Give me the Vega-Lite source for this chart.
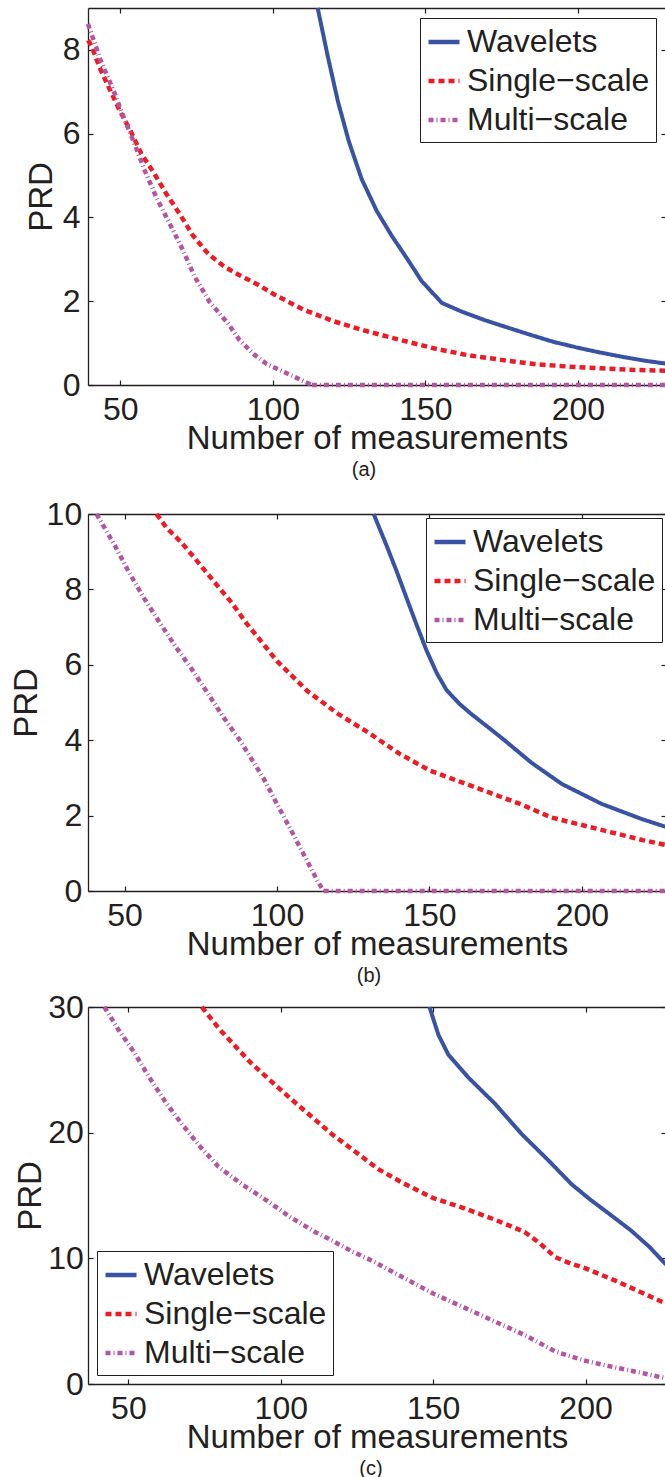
{
  "$schema": "https://vega.github.io/schema/vega-lite/v6.json",
  "background": "white",
  "padding": {"left": 10, "top": 6, "right": 0, "bottom": 0},
  "autosize": {"type": "pad"},
  "data": {
    "values": [
      {"panel": "a", "series": "Wavelets", "n": 114.7, "prd": 9.0},
      {"panel": "a", "series": "Wavelets", "n": 118.0, "prd": 7.85},
      {"panel": "a", "series": "Wavelets", "n": 121.3, "prd": 6.78},
      {"panel": "a", "series": "Wavelets", "n": 124.9, "prd": 5.82},
      {"panel": "a", "series": "Wavelets", "n": 129.1, "prd": 4.92},
      {"panel": "a", "series": "Wavelets", "n": 134.1, "prd": 4.15},
      {"panel": "a", "series": "Wavelets", "n": 139.0, "prd": 3.56},
      {"panel": "a", "series": "Wavelets", "n": 143.9, "prd": 3.03},
      {"panel": "a", "series": "Wavelets", "n": 148.8, "prd": 2.48},
      {"panel": "a", "series": "Wavelets", "n": 155.4, "prd": 1.96},
      {"panel": "a", "series": "Wavelets", "n": 162.0, "prd": 1.75},
      {"panel": "a", "series": "Wavelets", "n": 169.4, "prd": 1.55},
      {"panel": "a", "series": "Wavelets", "n": 177.0, "prd": 1.37},
      {"panel": "a", "series": "Wavelets", "n": 184.8, "prd": 1.19},
      {"panel": "a", "series": "Wavelets", "n": 192.0, "prd": 1.03},
      {"panel": "a", "series": "Wavelets", "n": 200.0, "prd": 0.89},
      {"panel": "a", "series": "Wavelets", "n": 207.0, "prd": 0.78},
      {"panel": "a", "series": "Wavelets", "n": 214.8, "prd": 0.67},
      {"panel": "a", "series": "Wavelets", "n": 222.0, "prd": 0.58},
      {"panel": "a", "series": "Wavelets", "n": 228.9, "prd": 0.51},

      {"panel": "a", "series": "Single−scale", "n": 39.4, "prd": 8.23},
      {"panel": "a", "series": "Single−scale", "n": 40.5, "prd": 8.1},
      {"panel": "a", "series": "Single−scale", "n": 43.2, "prd": 7.58},
      {"panel": "a", "series": "Single−scale", "n": 46.5, "prd": 7.06},
      {"panel": "a", "series": "Single−scale", "n": 49.8, "prd": 6.55},
      {"panel": "a", "series": "Single−scale", "n": 53.6, "prd": 6.03},
      {"panel": "a", "series": "Single−scale", "n": 56.9, "prd": 5.52},
      {"panel": "a", "series": "Single−scale", "n": 61.2, "prd": 5.04},
      {"panel": "a", "series": "Single−scale", "n": 65.1, "prd": 4.56},
      {"panel": "a", "series": "Single−scale", "n": 69.4, "prd": 4.09},
      {"panel": "a", "series": "Single−scale", "n": 73.8, "prd": 3.57},
      {"panel": "a", "series": "Single−scale", "n": 78.8, "prd": 3.13},
      {"panel": "a", "series": "Single−scale", "n": 84.2, "prd": 2.82},
      {"panel": "a", "series": "Single−scale", "n": 89.1, "prd": 2.62},
      {"panel": "a", "series": "Single−scale", "n": 95.0, "prd": 2.4},
      {"panel": "a", "series": "Single−scale", "n": 100.0, "prd": 2.18},
      {"panel": "a", "series": "Single−scale", "n": 110.0, "prd": 1.8},
      {"panel": "a", "series": "Single−scale", "n": 120.0, "prd": 1.52},
      {"panel": "a", "series": "Single−scale", "n": 130.0, "prd": 1.3},
      {"panel": "a", "series": "Single−scale", "n": 142.1, "prd": 1.07},
      {"panel": "a", "series": "Single−scale", "n": 153.1, "prd": 0.87},
      {"panel": "a", "series": "Single−scale", "n": 164.0, "prd": 0.71},
      {"panel": "a", "series": "Single−scale", "n": 175.0, "prd": 0.6},
      {"panel": "a", "series": "Single−scale", "n": 185.8, "prd": 0.5},
      {"panel": "a", "series": "Single−scale", "n": 196.8, "prd": 0.44},
      {"panel": "a", "series": "Single−scale", "n": 207.7, "prd": 0.4},
      {"panel": "a", "series": "Single−scale", "n": 218.6, "prd": 0.36},
      {"panel": "a", "series": "Single−scale", "n": 228.9, "prd": 0.34},

      {"panel": "a", "series": "Multi−scale", "n": 39.4, "prd": 8.62},
      {"panel": "a", "series": "Multi−scale", "n": 43.8, "prd": 7.7},
      {"panel": "a", "series": "Multi−scale", "n": 47.6, "prd": 7.06},
      {"panel": "a", "series": "Multi−scale", "n": 50.9, "prd": 6.43},
      {"panel": "a", "series": "Multi−scale", "n": 54.7, "prd": 5.75},
      {"panel": "a", "series": "Multi−scale", "n": 58.0, "prd": 5.12},
      {"panel": "a", "series": "Multi−scale", "n": 61.8, "prd": 4.48},
      {"panel": "a", "series": "Multi−scale", "n": 66.2, "prd": 3.85},
      {"panel": "a", "series": "Multi−scale", "n": 70.6, "prd": 3.21},
      {"panel": "a", "series": "Multi−scale", "n": 74.4, "prd": 2.58},
      {"panel": "a", "series": "Multi−scale", "n": 79.3, "prd": 1.98},
      {"panel": "a", "series": "Multi−scale", "n": 85.3, "prd": 1.47},
      {"panel": "a", "series": "Multi−scale", "n": 89.1, "prd": 1.07},
      {"panel": "a", "series": "Multi−scale", "n": 94.0, "prd": 0.72},
      {"panel": "a", "series": "Multi−scale", "n": 98.0, "prd": 0.5},
      {"panel": "a", "series": "Multi−scale", "n": 104.0, "prd": 0.3},
      {"panel": "a", "series": "Multi−scale", "n": 112.8, "prd": 0},
      {"panel": "a", "series": "Multi−scale", "n": 150.0, "prd": 0},
      {"panel": "a", "series": "Multi−scale", "n": 190.0, "prd": 0},
      {"panel": "a", "series": "Multi−scale", "n": 228.9, "prd": 0},

      {"panel": "b", "series": "Wavelets", "n": 131.7, "prd": 10.0},
      {"panel": "b", "series": "Wavelets", "n": 136.0, "prd": 9.15},
      {"panel": "b", "series": "Wavelets", "n": 139.2, "prd": 8.49},
      {"panel": "b", "series": "Wavelets", "n": 142.5, "prd": 7.77},
      {"panel": "b", "series": "Wavelets", "n": 145.8, "prd": 7.06},
      {"panel": "b", "series": "Wavelets", "n": 149.1, "prd": 6.37},
      {"panel": "b", "series": "Wavelets", "n": 152.4, "prd": 5.78},
      {"panel": "b", "series": "Wavelets", "n": 155.6, "prd": 5.33},
      {"panel": "b", "series": "Wavelets", "n": 159.9, "prd": 4.96},
      {"panel": "b", "series": "Wavelets", "n": 163.8, "prd": 4.69},
      {"panel": "b", "series": "Wavelets", "n": 168.7, "prd": 4.38},
      {"panel": "b", "series": "Wavelets", "n": 173.7, "prd": 4.06},
      {"panel": "b", "series": "Wavelets", "n": 183.5, "prd": 3.4},
      {"panel": "b", "series": "Wavelets", "n": 193.4, "prd": 2.84},
      {"panel": "b", "series": "Wavelets", "n": 206.5, "prd": 2.31},
      {"panel": "b", "series": "Wavelets", "n": 219.6, "prd": 1.91},
      {"panel": "b", "series": "Wavelets", "n": 227.6, "prd": 1.7},

      {"panel": "b", "series": "Single−scale", "n": 60.5, "prd": 10.0},
      {"panel": "b", "series": "Single−scale", "n": 63.8, "prd": 9.63},
      {"panel": "b", "series": "Single−scale", "n": 68.7, "prd": 9.24},
      {"panel": "b", "series": "Single−scale", "n": 74.2, "prd": 8.71},
      {"panel": "b", "series": "Single−scale", "n": 79.1, "prd": 8.23},
      {"panel": "b", "series": "Single−scale", "n": 85.1, "prd": 7.65},
      {"panel": "b", "series": "Single−scale", "n": 90.0, "prd": 7.1},
      {"panel": "b", "series": "Single−scale", "n": 95.0, "prd": 6.6},
      {"panel": "b", "series": "Single−scale", "n": 100.0, "prd": 6.1},
      {"panel": "b", "series": "Single−scale", "n": 110.0, "prd": 5.3},
      {"panel": "b", "series": "Single−scale", "n": 120.0, "prd": 4.7},
      {"panel": "b", "series": "Single−scale", "n": 130.0, "prd": 4.2},
      {"panel": "b", "series": "Single−scale", "n": 140.0, "prd": 3.65},
      {"panel": "b", "series": "Single−scale", "n": 150.0, "prd": 3.2},
      {"panel": "b", "series": "Single−scale", "n": 160.0, "prd": 2.9},
      {"panel": "b", "series": "Single−scale", "n": 170.0, "prd": 2.6},
      {"panel": "b", "series": "Single−scale", "n": 180.0, "prd": 2.3},
      {"panel": "b", "series": "Single−scale", "n": 190.0, "prd": 1.95},
      {"panel": "b", "series": "Single−scale", "n": 200.0, "prd": 1.75},
      {"panel": "b", "series": "Single−scale", "n": 210.0, "prd": 1.55},
      {"panel": "b", "series": "Single−scale", "n": 220.0, "prd": 1.35},
      {"panel": "b", "series": "Single−scale", "n": 227.6, "prd": 1.22},

      {"panel": "b", "series": "Multi−scale", "n": 40.8, "prd": 10.0},
      {"panel": "b", "series": "Multi−scale", "n": 46.9, "prd": 9.15},
      {"panel": "b", "series": "Multi−scale", "n": 51.2, "prd": 8.49},
      {"panel": "b", "series": "Multi−scale", "n": 56.2, "prd": 7.79},
      {"panel": "b", "series": "Multi−scale", "n": 61.1, "prd": 7.17},
      {"panel": "b", "series": "Multi−scale", "n": 66.5, "prd": 6.51},
      {"panel": "b", "series": "Multi−scale", "n": 72.0, "prd": 5.89},
      {"panel": "b", "series": "Multi−scale", "n": 77.4, "prd": 5.23},
      {"panel": "b", "series": "Multi−scale", "n": 82.4, "prd": 4.61},
      {"panel": "b", "series": "Multi−scale", "n": 87.8, "prd": 4.0},
      {"panel": "b", "series": "Multi−scale", "n": 95.5, "prd": 3.0},
      {"panel": "b", "series": "Multi−scale", "n": 100.0, "prd": 2.31},
      {"panel": "b", "series": "Multi−scale", "n": 105.0, "prd": 1.55},
      {"panel": "b", "series": "Multi−scale", "n": 110.9, "prd": 0.64},
      {"panel": "b", "series": "Multi−scale", "n": 113.4, "prd": 0.25},
      {"panel": "b", "series": "Multi−scale", "n": 115.3, "prd": 0},
      {"panel": "b", "series": "Multi−scale", "n": 150.0, "prd": 0},
      {"panel": "b", "series": "Multi−scale", "n": 190.0, "prd": 0},
      {"panel": "b", "series": "Multi−scale", "n": 227.6, "prd": 0},

      {"panel": "c", "series": "Wavelets", "n": 148.8, "prd": 30.0},
      {"panel": "c", "series": "Wavelets", "n": 151.7, "prd": 27.8},
      {"panel": "c", "series": "Wavelets", "n": 155.0, "prd": 26.2},
      {"panel": "c", "series": "Wavelets", "n": 161.5, "prd": 24.4},
      {"panel": "c", "series": "Wavelets", "n": 170.3, "prd": 22.3},
      {"panel": "c", "series": "Wavelets", "n": 179.0, "prd": 19.9},
      {"panel": "c", "series": "Wavelets", "n": 187.8, "prd": 17.8},
      {"panel": "c", "series": "Wavelets", "n": 195.4, "prd": 15.9},
      {"panel": "c", "series": "Wavelets", "n": 201.4, "prd": 14.7},
      {"panel": "c", "series": "Wavelets", "n": 208.0, "prd": 13.5},
      {"panel": "c", "series": "Wavelets", "n": 215.0, "prd": 12.2},
      {"panel": "c", "series": "Wavelets", "n": 221.0, "prd": 10.9},
      {"panel": "c", "series": "Wavelets", "n": 226.4, "prd": 9.5},

      {"panel": "c", "series": "Single−scale", "n": 74.1, "prd": 30.0},
      {"panel": "c", "series": "Single−scale", "n": 80.0, "prd": 28.2},
      {"panel": "c", "series": "Single−scale", "n": 90.0, "prd": 25.6},
      {"panel": "c", "series": "Single−scale", "n": 100.0, "prd": 23.4},
      {"panel": "c", "series": "Single−scale", "n": 104.7, "prd": 22.4},
      {"panel": "c", "series": "Single−scale", "n": 116.7, "prd": 19.9},
      {"panel": "c", "series": "Single−scale", "n": 132.0, "prd": 17.1},
      {"panel": "c", "series": "Single−scale", "n": 140.0, "prd": 16.0},
      {"panel": "c", "series": "Single−scale", "n": 150.0, "prd": 14.8},
      {"panel": "c", "series": "Single−scale", "n": 160.0, "prd": 14.0},
      {"panel": "c", "series": "Single−scale", "n": 170.0, "prd": 13.1},
      {"panel": "c", "series": "Single−scale", "n": 175.0, "prd": 12.6},
      {"panel": "c", "series": "Single−scale", "n": 180.0, "prd": 12.1},
      {"panel": "c", "series": "Single−scale", "n": 185.0, "prd": 11.2},
      {"panel": "c", "series": "Single−scale", "n": 190.0, "prd": 10.1},
      {"panel": "c", "series": "Single−scale", "n": 195.0, "prd": 9.6},
      {"panel": "c", "series": "Single−scale", "n": 200.0, "prd": 9.2},
      {"panel": "c", "series": "Single−scale", "n": 210.0, "prd": 8.2},
      {"panel": "c", "series": "Single−scale", "n": 220.0, "prd": 7.1},
      {"panel": "c", "series": "Single−scale", "n": 226.4, "prd": 6.4},

      {"panel": "c", "series": "Multi−scale", "n": 42.1, "prd": 30.0},
      {"panel": "c", "series": "Multi−scale", "n": 43.3, "prd": 29.55},
      {"panel": "c", "series": "Multi−scale", "n": 46.7, "prd": 28.2},
      {"panel": "c", "series": "Multi−scale", "n": 51.6, "prd": 26.5},
      {"panel": "c", "series": "Multi−scale", "n": 56.6, "prd": 24.5},
      {"panel": "c", "series": "Multi−scale", "n": 62.0, "prd": 22.5},
      {"panel": "c", "series": "Multi−scale", "n": 67.5, "prd": 20.7},
      {"panel": "c", "series": "Multi−scale", "n": 73.5, "prd": 18.9},
      {"panel": "c", "series": "Multi−scale", "n": 79.5, "prd": 17.3},
      {"panel": "c", "series": "Multi−scale", "n": 87.2, "prd": 15.9},
      {"panel": "c", "series": "Multi−scale", "n": 95.4, "prd": 14.6},
      {"panel": "c", "series": "Multi−scale", "n": 103.0, "prd": 13.3},
      {"panel": "c", "series": "Multi−scale", "n": 111.2, "prd": 12.1},
      {"panel": "c", "series": "Multi−scale", "n": 115.4, "prd": 11.6},
      {"panel": "c", "series": "Multi−scale", "n": 123.0, "prd": 10.6},
      {"panel": "c", "series": "Multi−scale", "n": 130.0, "prd": 9.8},
      {"panel": "c", "series": "Multi−scale", "n": 140.0, "prd": 8.5},
      {"panel": "c", "series": "Multi−scale", "n": 150.0, "prd": 7.2},
      {"panel": "c", "series": "Multi−scale", "n": 160.0, "prd": 6.1},
      {"panel": "c", "series": "Multi−scale", "n": 170.0, "prd": 5.0},
      {"panel": "c", "series": "Multi−scale", "n": 180.0, "prd": 3.9},
      {"panel": "c", "series": "Multi−scale", "n": 190.0, "prd": 2.6},
      {"panel": "c", "series": "Multi−scale", "n": 199.0, "prd": 1.9},
      {"panel": "c", "series": "Multi−scale", "n": 210.0, "prd": 1.3},
      {"panel": "c", "series": "Multi−scale", "n": 220.0, "prd": 0.8},
      {"panel": "c", "series": "Multi−scale", "n": 226.4, "prd": 0.45}
    ]
  },
  "config": {
    "view": {"stroke": null},
    "font": "Liberation Sans",
    "line": {"strokeJoin": "round", "clip": true},
    "axis": {
      "labelFont": "Liberation Sans", "labelFontSize": 32, "labelColor": "#231f20",
      "titleFont": "Liberation Sans", "titleFontSize": 33, "titleFontWeight": "normal", "titleColor": "#231f20",
      "domainColor": "#231f20", "domainWidth": 1.3,
      "tickColor": "#231f20", "tickWidth": 1.2, "tickSize": -5,
      "grid": false, "labelFlush": false, "labelOverlap": false
    },
    "legend": {
      "title": null, "padding": 6, "strokeColor": "#231f20", "fillColor": "white", "cornerRadius": 0,
      "labelFont": "Liberation Sans", "labelFontSize": 32, "labelColor": "#231f20", "labelLimit": 500,
      "symbolType": "stroke", "symbolSize": 961, "symbolStrokeWidth": 4.5,
      "rowPadding": 5, "labelOffset": 5
    },
    "title": {
      "font": "Liberation Sans", "fontSize": 20, "fontWeight": "normal", "color": "#231f20",
      "orient": "bottom", "frame": "group", "anchor": "middle", "offset": 0
    }
  },
  "bounds": "flush",
  "spacing": 129,
  "resolve": {"scale": {"color": "independent", "strokeDash": "independent"}, "legend": {"color": "independent", "strokeDash": "independent"}},
  "vconcat": [
    {
      "width": 578, "height": 377,
      "title": {"text": "(a)", "dx": -13},
      "transform": [{"filter": "datum.panel == 'a'"}],
      "encoding": {
        "x": {"field": "n", "type": "quantitative", "scale": {"domain": [39.4, 228.9], "nice": false, "zero": false}},
        "y": {"field": "prd", "type": "quantitative", "scale": {"domain": [0, 9], "nice": false, "zero": false}},
        "color": {"field": "series", "type": "nominal",
                  "scale": {"domain": ["Wavelets", "Single−scale", "Multi−scale"], "range": ["#3953a4", "#ed1c24", "#b4559f"]},
                  "legend": {"orient": "top-right", "offset": 10}},
        "strokeDash": {"field": "series", "type": "nominal",
                       "scale": {"domain": ["Wavelets", "Single−scale", "Multi−scale"], "range": [[1, 0], [6, 4], [5, 3, 1, 3]]},
                       "legend": {"orient": "top-right", "offset": 10}}
      },
      "layer": [
        {
          "transform": [{"filter": "datum.series == 'Wavelets'"}],
          "mark": {"type": "line", "strokeWidth": 4},
          "encoding": {
            "x": {"field": "n", "type": "quantitative",
                  "axis": {"orient": "top", "values": [50, 100, 150, 200], "labels": false, "title": null}},
            "y": {"field": "prd", "type": "quantitative",
                  "axis": {"orient": "right", "values": [0, 2, 4, 6, 8], "labels": false, "title": null, "domain": false}}
          }
        },
        {
          "transform": [{"filter": "datum.series != 'Wavelets' && (datum.prd > 0 || datum.n < 113)"}],
          "mark": {"type": "line", "strokeWidth": 4.5},
          "encoding": {
            "x": {"field": "n", "type": "quantitative",
                  "axis": {"orient": "bottom", "values": [50, 100, 150, 200], "title": "Number of measurements",
                           "labelBaseline": "alphabetic", "labelPadding": 39, "titleBaseline": "alphabetic", "titleY": 63.5}},
            "y": {"field": "prd", "type": "quantitative",
                  "axis": {"orient": "left", "values": [0, 2, 4, 6, 8], "title": "PRD", "labelPadding": 13,
                           "titleX": -36.3, "titleBaseline": "alphabetic"}}
          }
        },
        {
          "transform": [{"filter": "datum.series == 'Multi−scale' && datum.prd == 0"}],
          "mark": {"type": "line", "strokeWidth": 4.5, "clip": false},
          "encoding": {
            "x": {"field": "n", "type": "quantitative", "axis": null},
            "y": {"field": "prd", "type": "quantitative", "axis": null}
          }
        }
      ],
      "resolve": {"axis": {"x": "independent", "y": "independent"}}
    },
    {
      "bounds": "flush",
      "spacing": 116,
      "resolve": {"scale": {"color": "independent", "strokeDash": "independent"}, "legend": {"color": "independent", "strokeDash": "independent"}},
      "vconcat": [
        {
          "width": 578, "height": 377,
          "title": {"text": "(b)", "dx": -8},
          "transform": [{"filter": "datum.panel == 'b'"}],
          "encoding": {
            "x": {"field": "n", "type": "quantitative", "scale": {"domain": [38, 227.6], "nice": false, "zero": false}},
            "y": {"field": "prd", "type": "quantitative", "scale": {"domain": [0, 10], "nice": false, "zero": false}},
            "color": {"field": "series", "type": "nominal",
                      "scale": {"domain": ["Wavelets", "Single−scale", "Multi−scale"], "range": ["#3953a4", "#ed1c24", "#b4559f"]},
                      "legend": {"orient": "top-right", "offset": 4}},
            "strokeDash": {"field": "series", "type": "nominal",
                           "scale": {"domain": ["Wavelets", "Single−scale", "Multi−scale"], "range": [[1, 0], [6, 4], [5, 3, 1, 3]]},
                           "legend": {"orient": "top-right", "offset": 4}}
          },
          "layer": [
            {
              "transform": [{"filter": "datum.series == 'Wavelets'"}],
              "mark": {"type": "line", "strokeWidth": 4},
              "encoding": {
                "x": {"field": "n", "type": "quantitative",
                      "axis": {"orient": "top", "values": [50, 100, 150, 200], "labels": false, "title": null}},
                "y": {"field": "prd", "type": "quantitative",
                      "axis": {"orient": "right", "values": [0, 2, 4, 6, 8, 10], "labels": false, "title": null, "domain": false}}
              }
            },
            {
              "transform": [{"filter": "datum.series != 'Wavelets' && (datum.prd > 0 || datum.n < 116)"}],
              "mark": {"type": "line", "strokeWidth": 4.5},
              "encoding": {
                "x": {"field": "n", "type": "quantitative",
                      "axis": {"orient": "bottom", "values": [50, 100, 150, 200], "title": "Number of measurements",
                               "labelBaseline": "alphabetic", "labelPadding": 39, "titleBaseline": "alphabetic", "titleY": 63.5}},
                "y": {"field": "prd", "type": "quantitative",
                      "axis": {"orient": "left", "values": [0, 2, 4, 6, 8, 10], "title": "PRD", "labelPadding": 11.3,
                               "titleX": -51.3, "titleBaseline": "alphabetic"}}
              }
            },
            {
              "transform": [{"filter": "datum.series == 'Multi−scale' && datum.prd == 0"}],
              "mark": {"type": "line", "strokeWidth": 4.5, "clip": false},
              "encoding": {
                "x": {"field": "n", "type": "quantitative", "axis": null},
                "y": {"field": "prd", "type": "quantitative", "axis": null}
              }
            }
          ],
          "resolve": {"axis": {"x": "independent", "y": "independent"}}
        },
        {
          "width": 578, "height": 377,
          "title": {"text": "(c)", "dx": -6},
          "transform": [{"filter": "datum.panel == 'c'"}],
          "encoding": {
            "x": {"field": "n", "type": "quantitative", "scale": {"domain": [36.75, 226.4], "nice": false, "zero": false}},
            "y": {"field": "prd", "type": "quantitative", "scale": {"domain": [0, 30], "nice": false, "zero": false}},
            "color": {"field": "series", "type": "nominal",
                      "scale": {"domain": ["Wavelets", "Single−scale", "Multi−scale"], "range": ["#3953a4", "#ed1c24", "#b4559f"]},
                      "legend": {"orient": "bottom-left", "offset": 9}},
            "strokeDash": {"field": "series", "type": "nominal",
                           "scale": {"domain": ["Wavelets", "Single−scale", "Multi−scale"], "range": [[1, 0], [6, 4], [5, 3, 1, 3]]},
                           "legend": {"orient": "bottom-left", "offset": 9}}
          },
          "layer": [
            {
              "transform": [{"filter": "datum.series == 'Wavelets'"}],
              "mark": {"type": "line", "strokeWidth": 4},
              "encoding": {
                "x": {"field": "n", "type": "quantitative",
                      "axis": {"orient": "top", "values": [50, 100, 150, 200], "labels": false, "title": null}},
                "y": {"field": "prd", "type": "quantitative",
                      "axis": {"orient": "right", "values": [0, 10, 20, 30], "labels": false, "title": null, "domain": false}}
              }
            },
            {
              "transform": [{"filter": "datum.series != 'Wavelets'"}],
              "mark": {"type": "line", "strokeWidth": 4.5},
              "encoding": {
                "x": {"field": "n", "type": "quantitative",
                      "axis": {"orient": "bottom", "values": [50, 100, 150, 200], "title": "Number of measurements",
                               "labelBaseline": "alphabetic", "labelPadding": 39, "titleBaseline": "alphabetic", "titleY": 63.5}},
                "y": {"field": "prd", "type": "quantitative",
                      "axis": {"orient": "left", "values": [0, 10, 20, 30], "title": "PRD", "labelPadding": 9.6,
                               "titleX": -47.3, "titleBaseline": "alphabetic"}}
              }
            }
          ],
          "resolve": {"axis": {"x": "independent", "y": "independent"}}
        }
      ]
    }
  ]
}
